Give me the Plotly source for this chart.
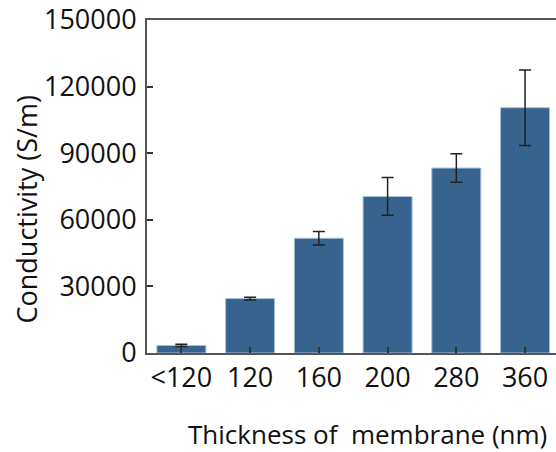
import plotly.graph_objects as go

categories = ["<120", "120", "160", "200", "280", "360"]
conductivity = [3400, 24500, 51700, 70500, 83300, 110500]
errors = [500, 600, 3000, 8500, 6400, 17000]
y_ticks = [0, 30000, 60000, 90000, 120000, 150000]

FONT = "Open Sans"

fig = go.Figure()
fig.add_trace(go.Bar(
    x=list(range(len(categories))),
    y=conductivity,
    marker=dict(color="#36648f", line=dict(color="#a8c0d8", width=1)),
    error_y=dict(type="data", array=errors, visible=True,
                 color="#222222", thickness=1.5, width=6),
))

fig.update_layout(
    width=556, height=452,
    margin=dict(l=147, r=0, t=20, b=99),
    plot_bgcolor="white", paper_bgcolor="white",
    bargap=0.287,
    showlegend=False,
    font=dict(family=FONT, size=26, color="#111111"),
)
fig.update_xaxes(
    range=[-0.5, 5.45],
    tickmode="array",
    tickvals=list(range(len(categories))),
    ticktext=categories,
    ticks="inside", ticklen=6, tickwidth=1.5, tickcolor="#333333",
    showline=True, linecolor="#555555", linewidth=2, mirror=True,
    showgrid=False, zeroline=False,
    tickfont=dict(family=FONT, size=27),
)
fig.update_yaxes(
    range=[0, 150000],
    tickmode="array",
    tickvals=y_ticks,
    ticktext=[str(v) for v in y_ticks],
    ticks="inside", ticklen=6, tickwidth=1.5, tickcolor="#333333",
    showline=True, linecolor="#555555", linewidth=2, mirror=False,
    showgrid=False, zeroline=False,
    ticklabelstandoff=3,
    tickfont=dict(family=FONT, size=27),
)
fig.add_annotation(
    text="Thickness of\u00a0 membrane (nm)",
    xref="paper", yref="paper", x=0.54, y=-0.243,
    xanchor="center", yanchor="middle", showarrow=False,
    font=dict(family=FONT, size=26, color="#111111"),
)
fig.add_annotation(
    text="Conductivity (S/m)",
    xref="paper", yref="paper", x=-0.295, y=0.432,
    xanchor="center", yanchor="middle", showarrow=False, textangle=-90,
    font=dict(family=FONT, size=27, color="#111111"),
)

fig.write_html("out.html")
